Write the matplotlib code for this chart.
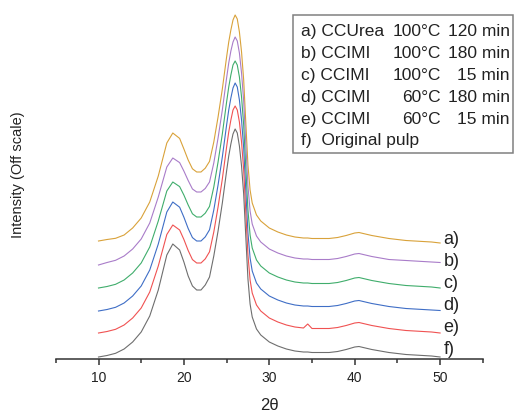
import matplotlib
matplotlib.use("Agg")
import matplotlib.pyplot as plt
from matplotlib.patches import Rectangle

plt.rcParams['font.family'] = ['Liberation Sans', 'DejaVu Sans']

# 2theta positions (deg) and stacked intensities (arbitrary, offset)
theta = [10, 11, 12, 13, 14, 15, 16, 17, 18, 18.7, 19.5, 20, 20.5, 21, 21.5, 22, 22.5, 23,
         23.5, 24, 24.5, 25, 25.25, 25.5, 25.75, 26, 26.25, 26.5, 26.75, 27, 27.25, 27.5,
         27.75, 28, 28.5, 29,
         30, 31, 32, 33, 34, 34.5, 35, 36, 37, 38, 39, 40, 40.5, 41, 42, 43, 44, 45, 46,
         47, 48, 49, 50]

int_a = [118, 119.5, 120.7, 124, 131, 141, 157, 183, 216, 226, 220.6, 210, 199, 190.2, 187,
         187, 190.8, 197.6,
         217, 242, 270, 302, 317, 329, 339, 344, 340, 327, 307, 279, 236, 194, 169, 156,
         144, 138,
         131, 127, 124, 122, 121, 121, 120.5, 120.5, 120.5, 121.5, 123.5, 126, 126.5, 125.5,
         123.5, 122, 120.5, 119.5, 118.5, 118, 117.5, 117, 116]
int_b = [94, 96.5, 98.7, 103, 110, 120, 136, 162, 192, 201, 196.4, 187.9, 178.5, 170, 167,
         167, 170.5, 177,
         196, 221, 249, 281, 296, 308, 317, 322, 318, 306, 286, 258, 215, 173, 148, 135,
         123, 117,
         110, 106, 103, 101, 100, 100, 99.5, 99.5, 99.5, 100.5, 102.5, 105, 105.5, 104.5,
         102.5, 101, 99.5, 99, 98.5, 98, 97.5, 97, 96.5]
int_c = [71, 72.5, 74.7, 79, 86, 96, 112, 138, 168, 177, 172.4, 163.9, 154, 145.2, 142,
         142, 145.8, 152.6,
         172, 197, 225, 257, 272, 284, 294, 298, 294, 282, 262, 234, 191, 149, 124, 111,
         99, 93,
         86, 82, 79, 77, 76, 76, 75.5, 75.5, 75.5, 76.5, 78.5, 81, 81.5, 80.5, 78.5, 77,
         75.5, 74.5, 73.5, 73, 72.5, 72, 71]
int_d = [48, 49.5, 51.7, 56, 63, 73, 89, 115, 147, 157, 151.8, 141.8, 130.5, 121.4, 118,
         118, 122.1, 129.2,
         149, 174, 202, 234, 249, 261, 271, 276, 272, 259, 239, 211, 168, 126, 101, 88,
         76, 70,
         63, 59, 56, 54, 53, 53, 52.5, 52.5, 52.5, 53.5, 55.5, 58, 58.5, 57.5, 55.5, 54,
         52.5, 51.5, 50.5, 50, 49.5, 49, 48.5]
int_e = [26, 27.5, 29.7, 34, 41, 51, 67, 93, 124.5, 134, 129, 119.5, 108.5, 99.4, 96,
         96, 100.1, 107.2,
         127, 152, 180, 212, 227, 239, 249, 253, 249, 237, 217, 189, 146, 104, 79, 66,
         54, 48,
         41, 37, 34, 32, 31, 35, 30.5, 30.5, 30.5, 31.5, 33.5, 36, 36.5, 35.5, 33.5, 32,
         30.5, 29.5, 28.5, 28, 27.5, 27, 26]
int_f = [2, 3.5, 5.7, 10, 17, 27, 43, 69, 104, 115, 109, 97, 83, 73, 69,
         69, 74, 82,
         103, 128, 156, 188, 203, 215, 225, 230, 226, 213, 193, 165, 122, 80, 55, 42,
         30, 24,
         17, 13, 10, 8, 7, 7, 6.5, 6.5, 6.5, 7.5, 9.5, 12, 12.5, 11.5, 9.5, 8,
         6.5, 5.5, 4.5, 4, 3.5, 3, 2]

series = [int_a, int_b, int_c, int_d, int_e, int_f]
tags = ['a)', 'b)', 'c)', 'd)', 'e)', 'f)']
samples = ['a) CCUrea', 'b) CCIMI', 'c) CCIMI', 'd) CCIMI', 'e) CCIMI', 'f)  Original pulp']
temps = ['100°C', '100°C', '100°C', '60°C', '60°C', '']
times = ['120 min', '180 min', '15 min', '180 min', '15 min', '']

colors = ['#D9A23A', '#A97CC9', '#40AD6C', '#3F6EC6', '#F05252', '#6E6E6E']
tag_y = [119, 97, 76, 54, 32, 10]  # label heights at the right end

W, H = 515, 413
fig = plt.figure(figsize=(W / 100, H / 100), dpi=100)
ax = fig.add_axes([55.8 / W, 54 / H, 427 / W, 354 / H])

for vals, c in zip(series, colors):
    ax.plot(theta, vals, color=c, lw=0.8)

for t, y in zip(tags, tag_y):
    ax.text(50.4, y, t, fontsize=13, ha='left', va='center', color='#222222')

ax.set_xlim(5, 55)
ax.set_ylim(0, 354)
ax.set_xticks([10, 20, 30, 40, 50])
ax.set_xticks([5, 15, 25, 35, 45, 55], minor=True)
ax.set_yticks([])
for s in ['left', 'top', 'right']:
    ax.spines[s].set_visible(False)
ax.spines['bottom'].set_linewidth(1.1)
ax.spines['bottom'].set_color('#333333')
ax.tick_params(axis='x', which='major', length=4, width=1.1, color='#333333',
               labelsize=10, pad=5, labelcolor='#222222')
ax.tick_params(axis='x', which='minor', length=3, width=1.1, color='#333333')

fig.text(269 / W, 1 - 405 / H, '2θ', fontsize=12, ha='center', va='center', color='#222222')
fig.text(18 / W, 1 - 175 / H, 'Intensity (Off scale)', fontsize=10.5, rotation=90,
         ha='center', va='center', color='#222222')

# legend box drawn as text columns
fig.patches.append(Rectangle((293 / W, 1 - 153 / H), 220 / W, 138 / H, transform=fig.transFigure,
                             fill=False, edgecolor='#808080', lw=1.1))
for i in range(6):
    yb = 1 - (36 + 21.9 * i) / H
    fig.text(301 / W, yb, samples[i], fontsize=12.5, ha='left', va='baseline', color='#222222')
    fig.text(441 / W, yb, temps[i], fontsize=12.5, ha='right', va='baseline', color='#222222')
    fig.text(509.5 / W, yb, times[i], fontsize=12.5, ha='right', va='baseline', color='#222222')

fig.savefig('out.png', dpi=100)
